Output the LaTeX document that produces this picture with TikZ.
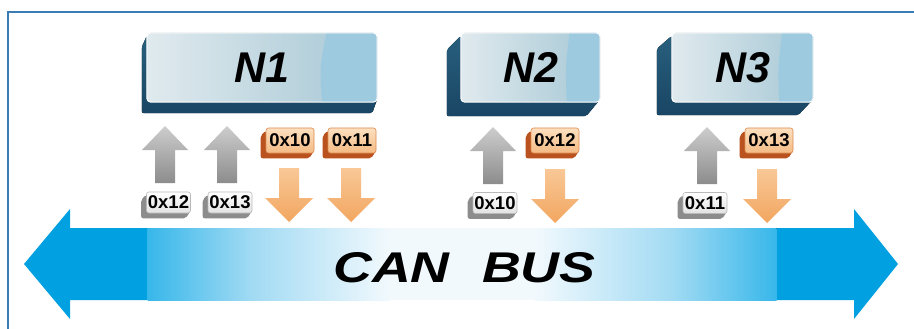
\documentclass[tikz,border=0pt]{standalone}
\usepackage{fontspec}
\setmainfont{Liberation Sans}
\usetikzlibrary{calc}
\definecolor{busblue}{RGB}{0,160,225}
\definecolor{busmid}{RGB}{55,183,234}
\definecolor{buslight}{RGB}{160,218,243}
\definecolor{buswhite}{RGB}{242,249,253}
\definecolor{frameblue}{RGB}{58,125,180}
\definecolor{nsidetop}{RGB}{40,95,125}
\definecolor{nsidebot}{RGB}{25,70,100}
\definecolor{nfaceL}{RGB}{224,234,238}
\definecolor{nfaceR}{RGB}{165,199,213}
\definecolor{nhigh}{RGB}{158,202,224}
\definecolor{ofaceT}{RGB}{252,224,192}
\definecolor{ofaceB}{RGB}{243,186,132}
\definecolor{oedge}{RGB}{222,140,80}
\definecolor{oside}{RGB}{185,82,30}
\definecolor{gfaceB}{RGB}{226,226,226}
\definecolor{gedge}{RGB}{185,185,185}
\definecolor{gside}{RGB}{140,140,140}
\definecolor{garrT}{RGB}{205,205,205}
\definecolor{garrB}{RGB}{140,140,140}
\definecolor{oarrT}{RGB}{248,200,150}
\definecolor{oarrB}{RGB}{242,166,96}
\pgfdeclarelayer{back}
\pgfdeclarelayer{bg}
\pgfsetlayers{back,bg,main}
\newcommand\myprism[4]{%
  \begin{pgfonlayer}{bg}
    \fill[#4, rounded corners=2pt]
      ([shift={(0,3)}]#1.north west) -- ([shift={(-#2,3+#3)}]#1.north west)
      -- ([shift={(-#2,#3)}]#1.south west) -- ([shift={(-#2,#3)}]#1.south east)
      -- ([shift={(0,-3)}]#1.south east) -- cycle;
  \end{pgfonlayer}}
\newcommand\mynbox[3]{%
  \myprism{#1}{#2}{#3}{top color=nsidetop, bottom color=nsidebot}
  \begin{pgfonlayer}{bg}
    \fill[rounded corners=4pt, left color=nfaceL, right color=nfaceR]
      (#1.north west) rectangle (#1.south east);
    \begin{scope}
      \clip[rounded corners=4pt] (#1.north west) rectangle (#1.south east);
      \fill[nhigh] ($(#1.north west)!0.78!(#1.north east)$)
        .. controls ($(#1.west)!0.75!(#1.east)$) .. ($(#1.south west)!0.76!(#1.south east)$)
        -- (#1.south east) -- (#1.north east) -- cycle;
    \end{scope}
    \draw[white, line width=1pt, rounded corners=4pt] (#1.north west) rectangle (#1.south east);
  \end{pgfonlayer}}
\tikzset{
  x=1pt, y=-1pt,
  nlabel/.style={minimum width=230pt, minimum height=69pt, inner sep=0pt,
    font=\fontsize{43}{43}\selectfont\bfseries\itshape},
  glabel/.style={rounded corners=2.5pt, minimum width=44pt, minimum height=21pt,
    inner sep=0pt, top color=white, bottom color=gfaceB, draw=gedge, line width=0.6pt,
    font=\fontsize{18.5}{18.5}\selectfont\bfseries},
  olabel/.style={rounded corners=2.5pt, minimum width=48pt, minimum height=25pt,
    inner sep=0pt, top color=ofaceT, bottom color=ofaceB, draw=oedge, line width=0.6pt,
    font=\fontsize{18.5}{18.5}\selectfont\bfseries},
  uparr/.pic={\path[top color=garrT, bottom color=garrB]
    (-10,57) -- (-10,24) -- (-23,24) -- (0,0) -- (23,24) -- (10,24) -- (10,57) -- cycle;},
  downarr/.pic={\path[top color=oarrT, bottom color=oarrB]
    (-10,-54) -- (10,-54) -- (10,-24) -- (24,-24) -- (0,0) -- (-24,-24) -- (-10,-24) -- cycle;}
}
\newcommand\lbl[1]{#1}
\begin{document}
\begin{tikzpicture}
\useasboundingbox (0,0) rectangle (914,329);
\begin{pgfonlayer}{back}
  \fill[white] (0,0) rectangle (914,329);
  \draw[frameblue, line width=1.6pt] (8,330) -- (8,12) -- (915,12);
  % CAN bus double arrow
  \fill[busblue] (148,228) -- (70,228) -- (70,209) -- (24,264) -- (70,319) -- (70,300) -- (148,300) -- cycle;
  \fill[busblue] (776,228) -- (854,228) -- (854,209) -- (898,264) -- (854,319) -- (854,300) -- (776,300) -- cycle;
  \fill[left color=busmid, right color=buslight] (147.5,228) rectangle (250,300);
  \fill[left color=buslight, right color=buswhite] (249.5,228) rectangle (390,300);
  \fill[buswhite] (389.5,228) rectangle (535,300);
  \fill[left color=buswhite, right color=buslight] (534.5,228) rectangle (675,300);
  \fill[left color=buslight, right color=busmid] (674.5,228) rectangle (776.5,300);
\end{pgfonlayer}
\node (bus) at (464.5,267.5) {\fontsize{43}{43}\selectfont\bfseries\itshape\scalebox{1.25}[1]{CAN\hspace{26pt}BUS}};

% Nodes
\node[nlabel] (n1) at (262,67.5) {N1};
\node[nlabel, minimum width=139pt] (n2) at (530.5,67.5) {N2};
\node[nlabel, minimum width=141pt] (n3) at (742.5,67.5) {N3};
\mynbox{n1}{5}{11}
\mynbox{n2}{14}{14}
\mynbox{n3}{15}{13}

% arrows
\pic at (165,126) {uparr};
\pic at (227,126) {uparr};
\pic at (493,127) {uparr};
\pic at (707,127) {uparr};
\pic at (289,222) {downarr};
\pic at (351,222) {downarr};
\pic at (555,223) {downarr};
\pic at (767,223) {downarr};

% labels
\node[olabel] (o10) at (290,140.5) {\lbl{0x10}};
\node[olabel] (o11) at (352,140.5) {\lbl{0x11}};
\node[olabel] (o12) at (555,140.5) {\lbl{0x12}};
\node[olabel] (o13) at (769,140.5) {\lbl{0x13}};
\myprism{o10}{5}{5}{oside}
\myprism{o11}{5}{5}{oside}
\myprism{o12}{5}{5}{oside}
\myprism{o13}{5}{5}{oside}
\node[glabel] (g12) at (168.5,202.5) {\lbl{0x12}};
\node[glabel] (g13) at (230,202.5) {\lbl{0x13}};
\node[glabel] (g10) at (495,203) {\lbl{0x10}};
\node[glabel] (g11) at (705,203) {\lbl{0x11}};
\myprism{g12}{5}{5}{gside}
\myprism{g13}{5}{5}{gside}
\myprism{g10}{5}{5}{gside}
\myprism{g11}{5}{5}{gside}
\end{tikzpicture}
\end{document}
